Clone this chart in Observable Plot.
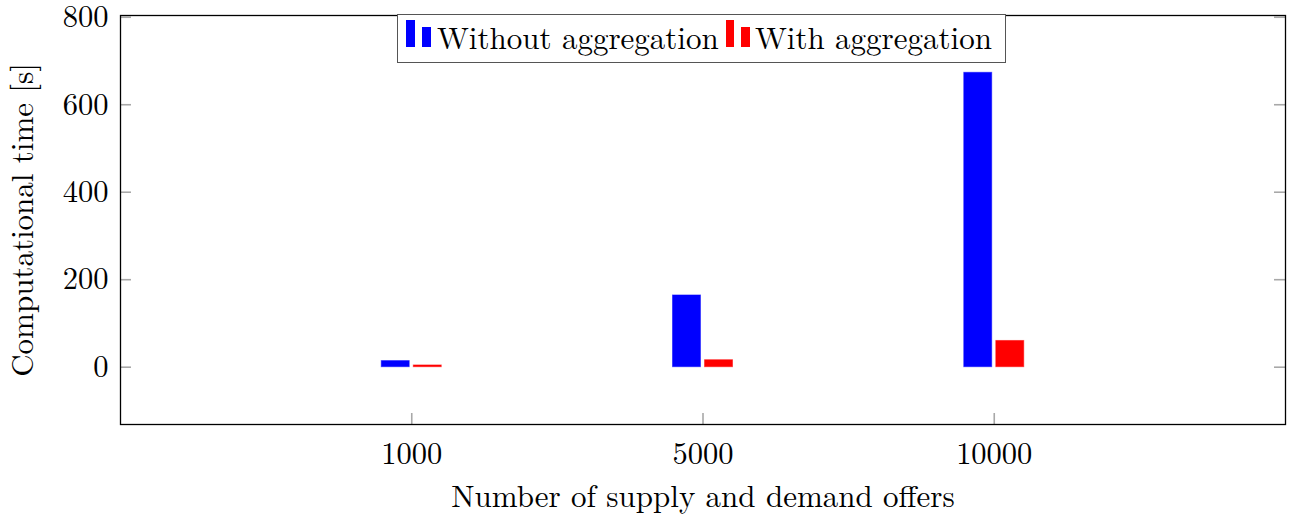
<!DOCTYPE html>
<html>
<head>
<meta charset="utf-8">
<script src="https://cdn.jsdelivr.net/npm/d3@7"></script>
<script src="https://cdn.jsdelivr.net/npm/@observablehq/plot@0.6"></script>
<style>
  body { margin: 0; background: #fff; }
  #wrap { position: relative; width: 1293px; height: 518px; font-family: 'Latin Modern Roman', 'Liberation Serif', serif; }
  #wrap svg { font-family: 'Latin Modern Roman', 'Liberation Serif', serif !important; }
  .leg { position: absolute; left: 397px; top: 14px; width: 607px; height: 47px; border: 1.5px solid #555; background: #fff; }
  .sw { position: absolute; }
  .lt { position: absolute; font-size: 31px; line-height: 31px; color: #000; white-space: nowrap; }
</style>
</head>
<body>
<div id="wrap"></div>
<script>
const categories = ["1000", "5000", "10000"];
const seriesNames = ["Without aggregation", "With aggregation"];
const withoutAggregation = [14, 164, 673];
const withAggregation = [4, 16, 60];
const yTicks = [0, 200, 400, 600, 800];
const colors = ["#0000ff", "#ff0000"];

const rows = [];
categories.forEach((c, i) => {
  rows.push({cat: i + 1, series: 0, value: withoutAggregation[i]});
  rows.push({cat: i + 1, series: 1, value: withAggregation[i]});
});
const barW = 0.096, gap = 0.007;

const plotW = 1293 - 120 - 8, plotH = 424 - 15, tick = 11;
const fs = 31, tfs = 30.5;

const chart = Plot.plot({
  width: 1293,
  height: 518,
  marginLeft: 120,
  marginRight: 8,
  marginTop: 15,
  marginBottom: 94,
  style: {fontFamily: "'Latin Modern Roman', 'Liberation Serif', serif", fontSize: fs + "px", color: "#000", background: "#fff"},
  x: {type: "linear", domain: [0, 4], axis: null},
  y: {domain: [-131, 804], axis: null},
  marks: [
    Plot.rectY(rows, {
      x1: d => d.cat + (d.series === 0 ? -(gap + barW) : gap),
      x2: d => d.cat + (d.series === 0 ? -gap : gap + barW),
      y1: 0,
      y2: "value",
      fill: d => colors[d.series],
      stroke: d => colors[d.series],
      strokeOpacity: 0.5,
      strokeWidth: 1
    }),
    Plot.tickY(yTicks, {y: d => d, insetRight: plotW - tick, stroke: "#a8a8a8", strokeWidth: 1.6}),
    Plot.tickY(yTicks, {y: d => d, insetLeft: plotW - tick, stroke: "#a8a8a8", strokeWidth: 1.6}),
    Plot.tickX([1, 2, 3], {x: d => d, insetBottom: plotH - tick, stroke: "#a8a8a8", strokeWidth: 1.6}),
    Plot.tickX([1, 2, 3], {x: d => d, insetTop: plotH - tick, stroke: "#a8a8a8", strokeWidth: 1.6}),
    Plot.frame({stroke: "#000", strokeWidth: 1.3}),
    Plot.axisY(yTicks, {tickSize: 0, tickPadding: 12, fontSize: tfs, label: null}),
    Plot.axisX([1, 2, 3], {tickSize: 0, tickPadding: 18, fontSize: tfs, label: null, tickFormat: d => categories[d - 1]}),
    Plot.text(["Number of supply and demand offers"], {frameAnchor: "bottom", textAnchor: "middle", dy: 82, fontSize: fs, fill: "#000"}),
    Plot.text(["Computational time [s]"], {frameAnchor: "left", textAnchor: "middle", dx: -97, rotate: -90, fontSize: fs, fill: "#000"})
  ]
});

const wrap = document.getElementById("wrap");
wrap.appendChild(chart);

const leg = document.createElement("div");
leg.className = "leg";
wrap.appendChild(leg);
const legendItems = [
  {name: seriesNames[0], color: colors[0], bars: [[406, 20, 9, 27], [422, 27, 9, 20]], textX: 437},
  {name: seriesNames[1], color: colors[1], bars: [[726, 20, 8, 27], [741, 27, 9, 20]], textX: 755}
];
for (const it of legendItems) {
  for (const [x, y, w, h] of it.bars) {
    const s = document.createElement("div");
    s.className = "sw";
    Object.assign(s.style, {left: x + "px", top: y + "px", width: w + "px", height: h + "px", background: it.color});
    wrap.appendChild(s);
  }
  const t = document.createElement("div");
  t.className = "lt";
  t.textContent = it.name;
  Object.assign(t.style, {left: it.textX + "px", top: "21px"});
  wrap.appendChild(t);
}
</script>
</body>
</html>
